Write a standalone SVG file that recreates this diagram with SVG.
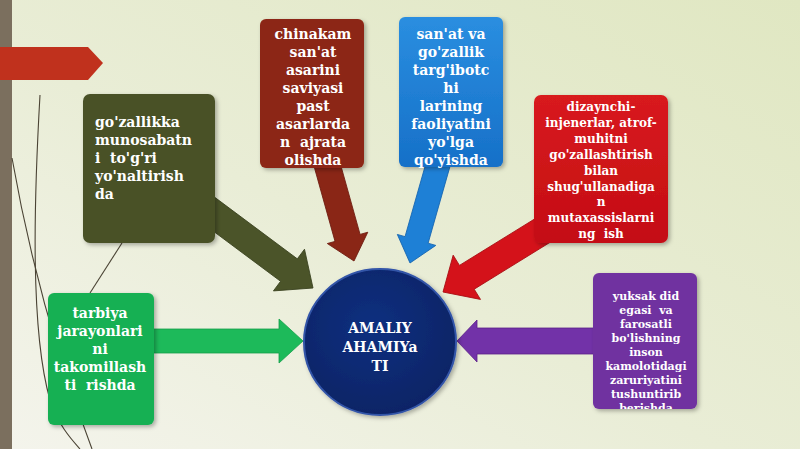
<svg xmlns="http://www.w3.org/2000/svg" width="800" height="449" viewBox="0 0 800 449">
<defs>
<linearGradient id="bg" x1="0" y1="1" x2="1" y2="0">
<stop offset="0" stop-color="#f4f4ec"/>
<stop offset="0.45" stop-color="#e9edd6"/>
<stop offset="1" stop-color="#e0e7c2"/>
</linearGradient>
<radialGradient id="circ" cx="0.45" cy="0.4" r="0.6">
<stop offset="0" stop-color="#103080"/>
<stop offset="1" stop-color="#0a2466"/>
</radialGradient>
<linearGradient id="blueg" x1="0" y1="0" x2="0" y2="1">
<stop offset="0" stop-color="#2a8ee0"/>
<stop offset="1" stop-color="#1670c8"/>
</linearGradient>
<linearGradient id="redg" x1="0" y1="0" x2="0" y2="1">
<stop offset="0" stop-color="#d81a1e"/>
<stop offset="1" stop-color="#c40d14"/>
</linearGradient>
<filter id="sh" x="-10%" y="-10%" width="125%" height="125%">
<feDropShadow dx="2" dy="2" stdDeviation="2" flood-color="#000" flood-opacity="0.3"/>
</filter>
<clipPath id="clipRed"><rect x="534" y="95" width="134" height="148" rx="7"/></clipPath>
<clipPath id="clipPurple"><rect x="593" y="273" width="104" height="136" rx="6"/></clipPath>
</defs>
<style>
.t{font-family:"DejaVu Serif","Liberation Serif",serif;font-weight:bold;fill:#ffffff;white-space:pre}
.t14{font-size:14px}
.t12{font-size:12px}
.t11{font-size:11px}
.c{text-anchor:middle}
.deco{fill:none;stroke:#4a4334;stroke-width:1.1}
.box{filter:url(#sh)}
</style>
<rect x="0" y="0" width="800" height="449" fill="url(#bg)"/>
<rect x="0" y="0" width="12" height="449" fill="#7b6f5e"/>
<polygon points="0,47 88,47 103,63 88,80 0,80" fill="#c0311d"/>
<path class="deco" d="M40,95 C34,200 30,330 50,400 C58,425 72,440 80,449"/>
<path class="deco" d="M12,158 C30,260 58,360 92,449"/>
<path class="deco" d="M90,293 L122,243"/>

<g id="connectors">
<polygon transform="translate(313,288) rotate(36.7)" points="-140,-14 -30,-14 -30,-26 0,0 -30,26 -30,14 -140,14" fill="#4b5429" stroke="#3a4220" stroke-width="0.8"/>
<polygon transform="translate(354,261) rotate(74.4)" points="-120,-13 -24,-13 -24,-21 0,0 -24,21 -24,13 -120,13" fill="#8a2616" stroke="#6e1c10" stroke-width="0.8"/>
<polygon transform="translate(410,263) rotate(105.9)" points="-120,-12 -24,-12 -24,-20 0,0 -24,20 -24,12 -120,12" fill="#1e80d6" stroke="#1464b0" stroke-width="0.8"/>
<polygon transform="translate(443,292) rotate(148.3)" points="-140,-14 -28,-14 -28,-26 0,0 -28,26 -28,14 -140,14" fill="#d4121a" stroke="#a80c12" stroke-width="0.8"/>
<polygon transform="translate(303,341)" points="-160,-12 -24,-12 -24,-22 0,0 -24,22 -24,12 -160,12" fill="#1dba5a" stroke="#14a04a" stroke-width="0.8"/>
<polygon transform="translate(457,341) rotate(180)" points="-150,-13 -20,-13 -20,-21 0,0 -20,21 -20,13 -150,13" fill="#7232a8" stroke="#5a2088" stroke-width="0.8"/>
</g>

<g id="olive">
<rect class="box" x="83" y="94" width="132" height="149" rx="7" fill="#485128"/>
<text class="t t14" x="95" y="127">go'zallikka</text>
<text class="t t14" x="95" y="145">munosabatn</text>
<text class="t t14" x="95" y="163">i  to'g'ri</text>
<text class="t t14" x="95" y="181">yo'naltirish</text>
<text class="t t14" x="95" y="199">da</text>
</g>

<g id="darkred">
<rect class="box" x="260" y="19" width="104" height="149" rx="6" fill="#8c2716"/>
<text class="t t14 c" x="313" y="39">chinakam</text>
<text class="t t14 c" x="313" y="57">san'at</text>
<text class="t t14 c" x="313" y="75">asarini</text>
<text class="t t14 c" x="313" y="93">saviyasi</text>
<text class="t t14 c" x="313" y="111">past</text>
<text class="t t14 c" x="313" y="129">asarlarda</text>
<text class="t t14 c" x="313" y="147">n  ajrata</text>
<text class="t t14 c" x="313" y="165">olishda</text>
</g>

<g id="blue">
<rect class="box" x="399" y="17" width="104" height="150" rx="6" fill="url(#blueg)"/>
<text class="t t14 c" x="451" y="39">san'at va</text>
<text class="t t14 c" x="451" y="57">go'zallik</text>
<text class="t t14 c" x="451" y="75">targ'ibotc</text>
<text class="t t14 c" x="451" y="93">hi</text>
<text class="t t14 c" x="451" y="111">larining</text>
<text class="t t14 c" x="451" y="129">faoliyatini</text>
<text class="t t14 c" x="451" y="147">yo'lga</text>
<text class="t t14 c" x="451" y="165">qo'yishda</text>
</g>

<g id="red">
<rect class="box" x="534" y="95" width="134" height="148" rx="7" fill="url(#redg)"/>
<g clip-path="url(#clipRed)">
<text class="t t12 c" x="601" y="111">dizaynchi-</text>
<text class="t t12 c" x="601" y="127">injenerlar, atrof-</text>
<text class="t t12 c" x="601" y="143">muhitni</text>
<text class="t t12 c" x="601" y="159">go'zallashtirish</text>
<text class="t t12 c" x="601" y="175">bilan</text>
<text class="t t12 c" x="601" y="191">shug'ullanadiga</text>
<text class="t t12 c" x="601" y="206">n</text>
<text class="t t12 c" x="601" y="222">mutaxassislarni</text>
<text class="t t12 c" x="601" y="238">ng  ish</text>
</g>
</g>

<g id="purple">
<rect class="box" x="593" y="273" width="104" height="136" rx="6" fill="#7030a0"/>
<g clip-path="url(#clipPurple)">
<text class="t t11 c" x="646" y="300">yuksak did</text>
<text class="t t11 c" x="646" y="314">egasi  va</text>
<text class="t t11 c" x="646" y="328">farosatli</text>
<text class="t t11 c" x="646" y="342">bo'lishning</text>
<text class="t t11 c" x="646" y="356">inson</text>
<text class="t t11 c" x="646" y="370">kamolotidagi</text>
<text class="t t11 c" x="646" y="384">zaruriyatini</text>
<text class="t t11 c" x="646" y="398">tushuntirib</text>
<text class="t t11 c" x="646" y="412">berishda</text>
</g>
</g>

<g id="green">
<rect class="box" x="48" y="293" width="106" height="132" rx="6" fill="#15b052"/>
<text class="t t14 c" x="100" y="318">tarbiya</text>
<text class="t t14 c" x="100" y="336">jarayonlari</text>
<text class="t t14 c" x="100" y="354">ni</text>
<text class="t t14 c" x="100" y="372">takomillash</text>
<text class="t t14 c" x="100" y="390">ti  rishda</text>
</g>

<g id="center">
<ellipse class="box" cx="380" cy="342" rx="76" ry="73" fill="url(#circ)" stroke="#3354a8" stroke-width="2"/>
<text class="t t14 c" x="380" y="333">AMALIY</text>
<text class="t t14 c" x="380" y="352">AHAMIYa</text>
<text class="t t14 c" x="380" y="371">TI</text>
</g>
</svg>
